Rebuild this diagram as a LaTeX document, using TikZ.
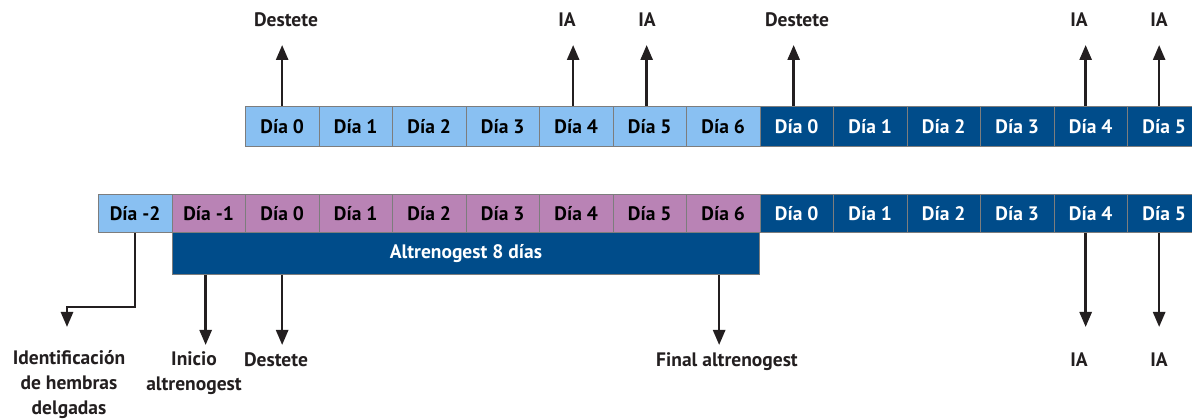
\documentclass[tikz,border=0pt]{standalone}
\usepackage{fontspec}
\setmainfont{PT Sans}
\usetikzlibrary{arrows.meta,calc}
\definecolor{lblue}{RGB}{137,192,242}
\definecolor{mauve}{RGB}{185,131,181}
\definecolor{dblue}{RGB}{0,76,138}
\definecolor{edgegray}{RGB}{125,125,125}
\definecolor{ink}{RGB}{35,31,32}
\begin{document}
\begin{tikzpicture}[x=1pt,y=-1pt,
  txt/.style={font=\bfseries\fontsize{19.5}{25}\selectfont},
  cell/.style={txt,draw=edgegray,line width=0.8pt,minimum width=73.5pt,inner sep=0pt,anchor=north west},
  tcell/.style={cell,minimum height=40pt},
  bcell/.style={cell,minimum height=38pt},
  lightc/.style={fill=lblue,text=black},
  mauvec/.style={fill=mauve,text=black},
  darkc/.style={fill=dblue,text=white},
  lbl/.style={txt,text=ink,align=center,inner sep=0pt,anchor=base},
  arr/.style={draw=ink,line width=2.6pt,-{Triangle[width=12pt,length=15pt]}}
]
\useasboundingbox (0,0) rectangle (1192,419);
\clip (0,0) rectangle (1192,419);

% top row
\foreach \i in {0,...,6}
  \node[tcell,lightc] (t\i) at ({245+73.5*\i},106) {Día \i};
\foreach \i in {0,...,5}
  \node[tcell,darkc] (u\i) at ({245+73.5*(\i+7)},106) {Día \i};

% bar
\node[txt,draw=edgegray,line width=0.8pt,fill=dblue,text=white,minimum width=587pt,minimum height=42pt,inner sep=0pt,anchor=north west] (bar) at (172,232) {Altrenogest 8 días};

% bottom row
\node[bcell,lightc] (bm2) at (98,194) {Día -2};
\node[bcell,mauvec] (bm1) at (171.5,194) {Día -1};
\foreach \i in {0,...,6}
  \node[bcell,mauvec] (b\i) at ({245+73.5*\i},194) {Día \i};
\foreach \i in {0,...,5}
  \node[bcell,darkc] (c\i) at ({245+73.5*(\i+7)},194) {Día \i};

% top labels
\node[lbl] (lt0) at (286,27) {Destete};
\node[lbl] (lt4) at (567,27) {IA};
\node[lbl] (lt5) at (647,27) {IA};
\node[lbl] (lu0) at (797,27) {Destete};
\node[lbl] (lu4) at (1079,27) {IA};
\node[lbl] (lu5) at (1159,27) {IA};

\coordinate (topy) at (0,45);
\draw[arr] (t0.north) -- (t0.north |- topy);
\draw[arr] ([xshift=-3pt]t4.north) -- ([xshift=-3pt]t4.north |- topy);
\draw[arr] ([xshift=-3pt]t5.north) -- ([xshift=-3pt]t5.north |- topy);
\draw[arr] ([xshift=-3pt]u0.north) -- ([xshift=-3pt]u0.north |- topy);
\draw[arr] ([xshift=-5pt]u4.north) -- ([xshift=-5pt]u4.north |- topy);
\draw[arr] ([xshift=-5pt]u5.north) -- ([xshift=-5pt]u5.north |- topy);

% bottom labels (anchor base = baseline of the last line)
\node[lbl] (lid) at (69,415) {Identificación\\de hembras\\delgadas};
\node[lbl] (lini) at (194,391) {Inicio\\altrenogest};
\node[lbl] (ldes) at (276,367) {Destete};
\node[lbl] (lfin) at (727,367) {Final altrenogest};
\node[lbl] (lc4) at (1079,367) {IA};
\node[lbl] (lc5) at (1159,367) {IA};

\coordinate (e0) at (67,307);
\coordinate (e1) at (67,327);
\draw[arr,line join=miter] (bm2.south) |- (e0) -- (e1);

\coordinate (boty) at (0,345);
\draw[arr] ([xshift=-3pt]bm1.center |- bar.south) -- ([xshift=-3pt]bm1.center |- boty);
\draw[arr] (b0.center |- bar.south) -- (b0.center |- boty);
\draw[arr] ([xshift=-4pt]b6.center |- bar.south) -- ([xshift=-4pt]b6.center |- boty);

\coordinate (iay) at (0,327);
\draw[arr] ([xshift=-5pt]c4.south) -- ([xshift=-5pt]c4.south |- iay);
\draw[arr] ([xshift=-5pt]c5.south) -- ([xshift=-5pt]c5.south |- iay);
\end{tikzpicture}
\end{document}
